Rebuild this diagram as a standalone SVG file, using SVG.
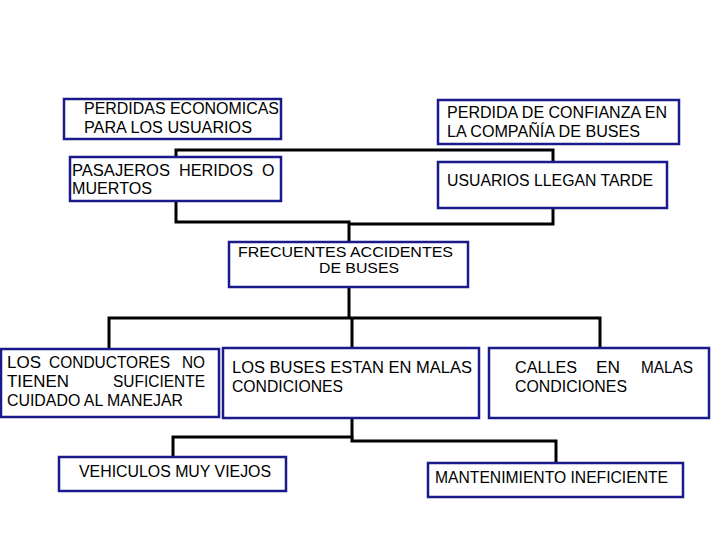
<svg xmlns="http://www.w3.org/2000/svg" width="720" height="540" viewBox="0 0 720 540">
<style>
.box{fill:#fff;stroke:#1a1a8c;stroke-width:2.5}
.t{font-family:"Liberation Sans",Arial,sans-serif;font-size:16px;fill:#000}
.s{font-size:14.5px}
.c{fill:none;stroke:#000;stroke-width:3}
</style>
<rect width="720" height="540" fill="#fff"/>
<g id="connectors">
<path class="c" d="M176,157 V150 H553 V162"/>
<path class="c" d="M176,201 V222 H349 V242"/>
<path class="c" d="M349,224 H553 V208"/>
<path class="c" d="M349,287 V318"/>
<path class="c" d="M109,349 V318 H600 V348"/>
<path class="c" d="M352,318 V348"/>
<path class="c" d="M352,418 V437 H173 V457"/>
<path class="c" d="M352,436 V441 H556 V463"/>
</g>
<g id="n1">
<rect class="box" x="64" y="99" width="217" height="40"/>
<text class="t" x="84" y="114" textLength="195" lengthAdjust="spacingAndGlyphs">PERDIDAS ECONOMICAS</text>
<text class="t" x="84" y="133" textLength="168" lengthAdjust="spacingAndGlyphs">PARA LOS USUARIOS</text>
</g>
<g id="n2">
<rect class="box" x="70" y="157" width="211" height="44"/>
<text class="t" y="176"><tspan x="72" textLength="98" lengthAdjust="spacingAndGlyphs">PASAJEROS</tspan><tspan x="179" textLength="74" lengthAdjust="spacingAndGlyphs">HERIDOS</tspan><tspan x="262">O</tspan></text>
<text class="t" x="72" y="194" textLength="80" lengthAdjust="spacingAndGlyphs">MUERTOS</text>
</g>
<g id="n3">
<rect class="box" x="438" y="100" width="241" height="44"/>
<text class="t" x="447" y="118" textLength="220" lengthAdjust="spacingAndGlyphs">PERDIDA DE CONFIANZA EN</text>
<text class="t" x="447" y="137" textLength="193" lengthAdjust="spacingAndGlyphs">LA COMPAÑÍA DE BUSES</text>
</g>
<g id="n4">
<rect class="box" x="438" y="162" width="229" height="46"/>
<text class="t" x="447" y="186" textLength="206" lengthAdjust="spacingAndGlyphs">USUARIOS LLEGAN TARDE</text>
</g>
<g id="n5">
<rect class="box" x="229" y="242" width="239" height="45"/>
<text class="t s" x="238" y="257" textLength="215" lengthAdjust="spacingAndGlyphs">FRECUENTES ACCIDENTES</text>
<text class="t s" x="319" y="273" textLength="80" lengthAdjust="spacingAndGlyphs">DE BUSES</text>
</g>
<g id="n6">
<rect class="box" x="1" y="349" width="218" height="68"/>
<text class="t" y="368"><tspan x="7" textLength="34" lengthAdjust="spacingAndGlyphs">LOS</tspan><tspan x="49" textLength="121" lengthAdjust="spacingAndGlyphs">CONDUCTORES</tspan><tspan x="182" textLength="23" lengthAdjust="spacingAndGlyphs">NO</tspan></text>
<text class="t" y="387"><tspan x="7" textLength="62" lengthAdjust="spacingAndGlyphs">TIENEN</tspan><tspan x="113" textLength="92" lengthAdjust="spacingAndGlyphs">SUFICIENTE</tspan></text>
<text class="t" x="7" y="406" textLength="176" lengthAdjust="spacingAndGlyphs">CUIDADO AL MANEJAR</text>
</g>
<g id="n7">
<rect class="box" x="223" y="348" width="256" height="70"/>
<text class="t" x="232" y="373" textLength="240" lengthAdjust="spacingAndGlyphs">LOS BUSES ESTAN EN MALAS</text>
<text class="t" x="232" y="392" textLength="111" lengthAdjust="spacingAndGlyphs">CONDICIONES</text>
</g>
<g id="n8">
<rect class="box" x="489" y="348" width="220" height="70"/>
<text class="t" y="373"><tspan x="515" textLength="62" lengthAdjust="spacingAndGlyphs">CALLES</tspan><tspan x="596" textLength="24" lengthAdjust="spacingAndGlyphs">EN</tspan><tspan x="641" textLength="52" lengthAdjust="spacingAndGlyphs">MALAS</tspan></text>
<text class="t" x="515" y="392" textLength="112" lengthAdjust="spacingAndGlyphs">CONDICIONES</text>
</g>
<g id="n9">
<rect class="box" x="59" y="457" width="227" height="34"/>
<text class="t" x="79" y="477" textLength="192" lengthAdjust="spacingAndGlyphs">VEHICULOS MUY VIEJOS</text>
</g>
<g id="n10">
<rect class="box" x="428" y="463" width="255" height="34"/>
<text class="t" x="435" y="483" textLength="233" lengthAdjust="spacingAndGlyphs">MANTENIMIENTO INEFICIENTE</text>
</g>
</svg>
